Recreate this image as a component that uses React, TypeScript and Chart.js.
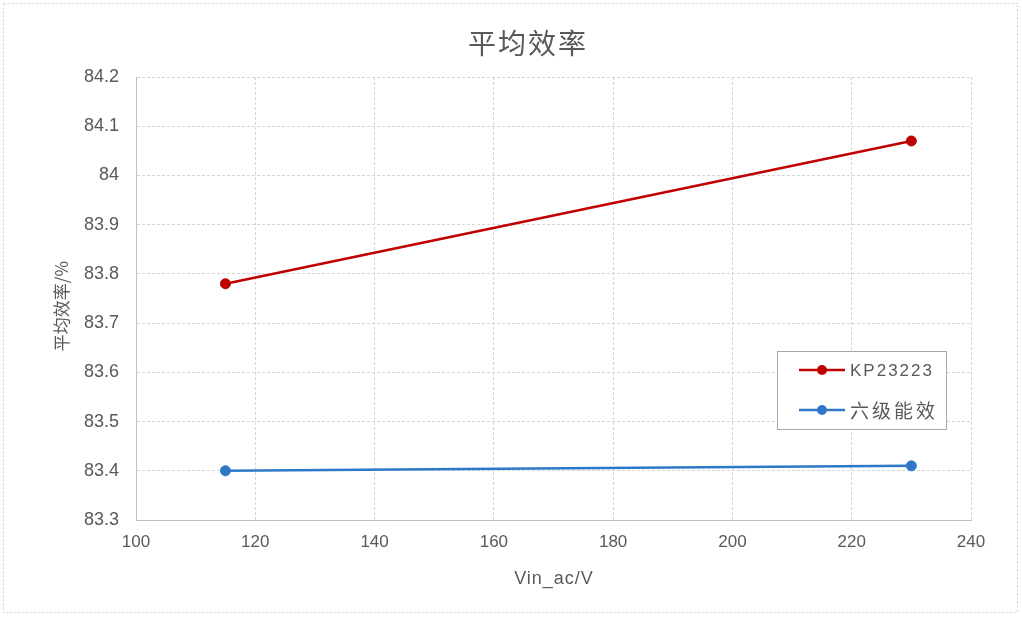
import React, { useEffect, useRef } from "react";
import { Chart, registerables } from "chart.js";

Chart.register(...registerables);

const titleText = "平均效率";
const xTitle = "Vin_ac/V";
const yTitle = "平均效率/%";
const seriesNames = ["KP23223", "六级能效"];
const xValues = [115, 230];
const kpValues = [83.78, 84.07];
const level6Values = [83.4, 83.41];
const seriesColors = ["#c00000", "#2e78c7"];
const xMin = 100;
const xMax = 240;
const xStep = 20;
const yMin = 83.3;
const yMax = 84.2;
const yStep = 0.1;

const FONT = "'Liberation Sans', 'Noto Sans CJK SC', sans-serif";
const CJK = "'Noto Sans CJK SC', sans-serif";
const TEXT = "#595959";

const decorPlugin = {
  id: "decor",
  beforeDraw(chart: any) {
    const ctx = chart.ctx;
    ctx.save();
    ctx.fillStyle = "#ffffff";
    ctx.fillRect(0, 0, chart.width, chart.height);
    ctx.strokeStyle = "#d0d0d0";
    ctx.lineWidth = 1;
    ctx.setLineDash([2, 2]);
    ctx.strokeRect(3.5, 3.5, 1014, 609);
    ctx.restore();
  },
  afterDraw(chart: any) {
    const ctx = chart.ctx;
    ctx.save();
    ctx.fillStyle = TEXT;
    ctx.textAlign = "center";
    ctx.textBaseline = "middle";
    ctx.font = `28px ${CJK}`;
    (ctx as any).letterSpacing = "2px";
    ctx.fillText(titleText, 528, 43);
    ctx.font = `18px ${FONT}`;
    (ctx as any).letterSpacing = "1px";
    ctx.fillText(xTitle, 554, 579);
    (ctx as any).letterSpacing = "0px";
    ctx.save();
    ctx.translate(62, 306);
    ctx.rotate(-Math.PI / 2);
    ctx.font = `17px ${CJK}`;
    ctx.fillText(yTitle, 0, 0);
    ctx.restore();

    // legend box
    const lx = 777.5, ly = 351.5, lw = 169, lh = 78;
    ctx.fillStyle = "#ffffff";
    ctx.fillRect(lx, ly, lw, lh);
    ctx.strokeStyle = "#a6a6a6";
    ctx.lineWidth = 1;
    ctx.setLineDash([]);
    ctx.strokeRect(lx, ly, lw, lh);
    const rows = [370, 410];
    const fonts = [`17px ${FONT}`, `19px ${CJK}`];
    const spacing = ["2px", "3px"];
    seriesNames.forEach((name, i) => {
      const y = rows[i];
      ctx.strokeStyle = seriesColors[i];
      ctx.lineWidth = 2.5;
      ctx.beginPath();
      ctx.moveTo(799, y);
      ctx.lineTo(845, y);
      ctx.stroke();
      ctx.fillStyle = seriesColors[i];
      ctx.beginPath();
      ctx.arc(822, y, 5, 0, Math.PI * 2);
      ctx.fill();
      ctx.fillStyle = TEXT;
      ctx.textAlign = "left";
      ctx.font = fonts[i];
      (ctx as any).letterSpacing = spacing[i];
      ctx.fillText(name, 850, y + 1);
      (ctx as any).letterSpacing = "0px";
    });
    ctx.restore();
  },
};

export default function App() {
  const ref = useRef<HTMLCanvasElement>(null);
  useEffect(() => {
    document.body.style.margin = "0";
    const chart = new Chart(ref.current!, {
      type: "scatter",
      data: {
        datasets: [
          {
            label: seriesNames[0],
            data: xValues.map((x, i) => ({ x, y: kpValues[i] })),
            showLine: true,
            borderColor: seriesColors[0],
            backgroundColor: seriesColors[0],
            borderWidth: 2.5,
            pointRadius: 5,
            pointBorderWidth: 1,
          },
          {
            label: seriesNames[1],
            data: xValues.map((x, i) => ({ x, y: level6Values[i] })),
            showLine: true,
            borderColor: seriesColors[1],
            backgroundColor: seriesColors[1],
            borderWidth: 2.5,
            pointRadius: 5,
            pointBorderWidth: 1,
          },
        ],
      },
      options: {
        animation: false,
        responsive: false,
        layout: { padding: { left: 0, top: 77, right: 51, bottom: 0 } },
        plugins: { legend: { display: false }, tooltip: { enabled: false } },
        scales: {
          x: {
            type: "linear",
            min: xMin,
            max: xMax,
            ticks: {
              stepSize: xStep,
              color: TEXT,
              font: { family: FONT, size: 17 },
              padding: 12,
            },
            grid: { color: "#d5d5d5", drawTicks: false, lineWidth: 1 },
            border: { color: "#bfbfbf", width: 1, dash: [3, 2] },
            afterFit: (s: any) => {
              s.height = 97;
            },
          },
          y: {
            type: "linear",
            min: yMin,
            max: yMax,
            ticks: {
              stepSize: yStep,
              color: TEXT,
              font: { family: FONT, size: 18 },
              padding: 17,
              callback: (v: any) => String(Math.round(Number(v) * 10) / 10),
            },
            grid: { color: "#d5d5d5", drawTicks: false, lineWidth: 1 },
            border: { color: "#bfbfbf", width: 1, dash: [3, 2] },
            afterFit: (s: any) => {
              s.width = 136;
            },
          },
        },
      },
      plugins: [decorPlugin],
    });
    return () => chart.destroy();
  }, []);
  return <canvas ref={ref} width={1022} height={617} style={{ display: "block" }} />;
}
